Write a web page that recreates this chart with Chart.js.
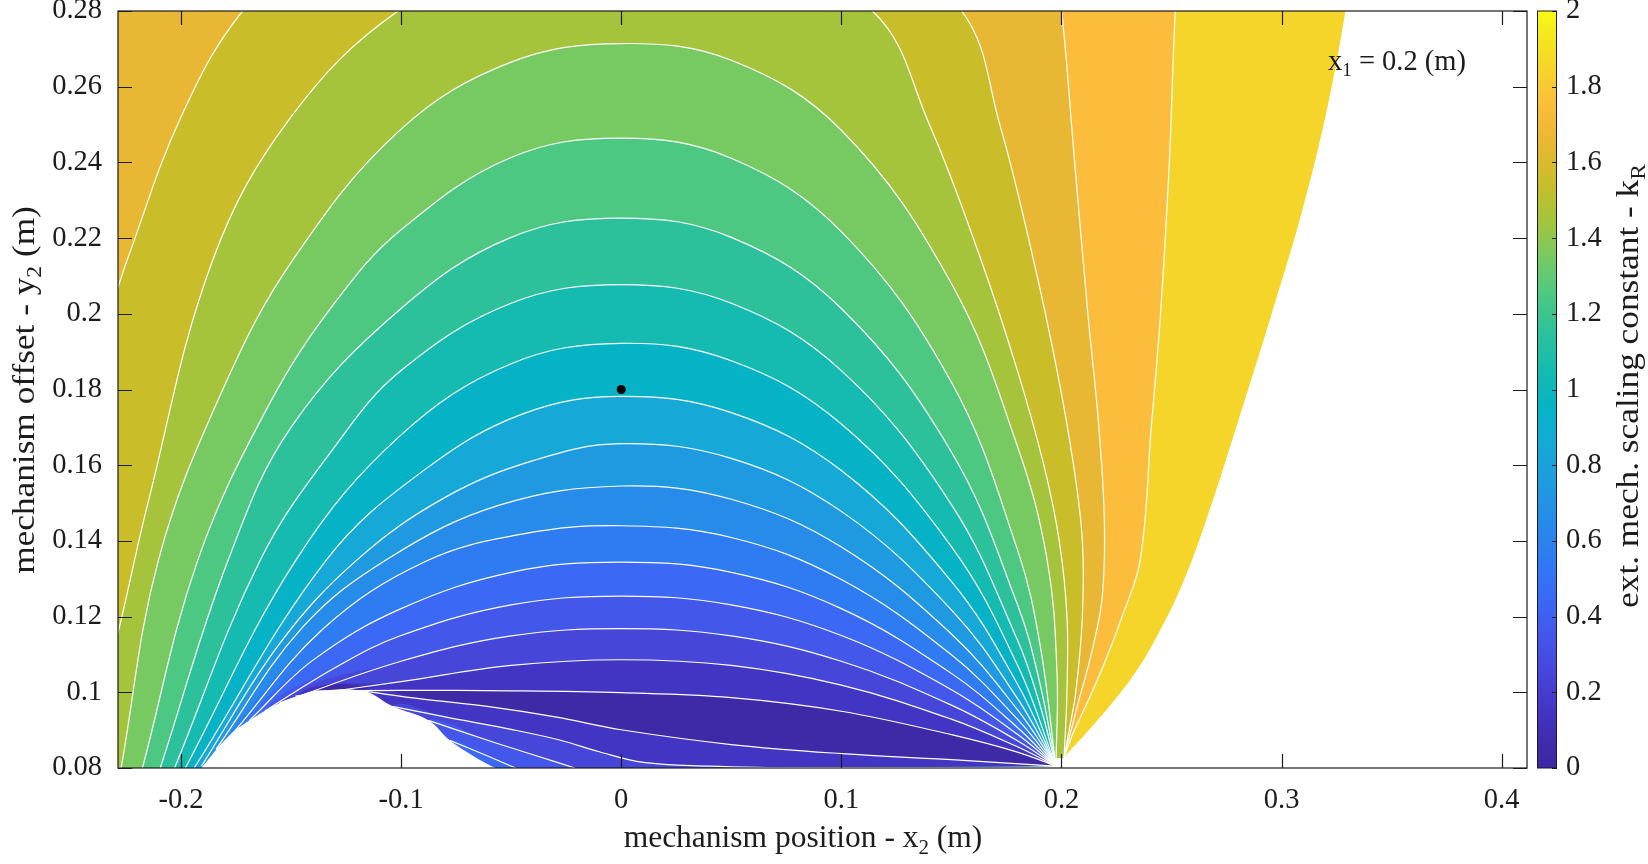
<!DOCTYPE html>
<html>
<head>
<meta charset="utf-8">
<script src="https://cdn.jsdelivr.net/npm/chart.js@4.4.1/dist/chart.umd.min.js"></script>
<style>
  html, body { margin: 0; padding: 0; background: #ffffff; }
  #wrap { position: relative; width: 1648px; height: 864px; }
  #main { position: absolute; left: 0; top: 0; }
  #cbar { position: absolute; left: 1480px; top: 0; }
</style>
</head>
<body>
<div id="wrap">
  <canvas id="main" width="1648" height="864"></canvas>
  <canvas id="cbar" width="168" height="864"></canvas>
</div>
<script>
// axis limits and ticks
var xLimits = [-0.2286, 0.4115];
var yLimits = [0.08, 0.28];
var xTicks = [-0.2, -0.1, 0, 0.1, 0.2, 0.3, 0.4];
var yTicks = [0.08, 0.1, 0.12, 0.14, 0.16, 0.18, 0.2, 0.22, 0.24, 0.26, 0.28];
var cbTicks = [0, 0.2, 0.4, 0.6, 0.8, 1, 1.2, 1.4, 1.6, 1.8, 2];

// colour of each k band: 0-0.1, 0.1-0.2, ... 1.9-2.0
var bandColors = ['#3e2aa6', '#4335c4', '#4646d9', '#4357ea', '#3b69f5', '#2f7bf2', '#278be9', '#1f9ae0', '#16a8d6', '#06b3c6',
                  '#15bbb0', '#2dc19b', '#4cc882', '#77ca62', '#a5c43b', '#cabd2a', '#e8b733', '#fcbc3c', '#f6d52b', '#f4ec1b'];

// edge of the computed region (right side), top to bottom
var domainEdge = [{x:0.331,y:0.29},{x:0.329,y:0.28},{x:0.321,y:0.255},{x:0.3095,y:0.2275},{x:0.2955,y:0.2},{x:0.2805,y:0.172},
  {x:0.2655,y:0.145},{x:0.2545,y:0.128},{x:0.2445,y:0.116},{x:0.2345,y:0.106},{x:0.2235,y:0.0975},{x:0.2115,y:0.0894},
  {x:0.2045,y:0.085},{x:0.2012,y:0.0828}];

// contour lines of k, upper family
var c18 = [{x:0.2535,y:0.29},{x:0.2517,y:0.28},{x:0.249,y:0.24},{x:0.245,y:0.2},{x:0.2408,y:0.17},{x:0.2358,y:0.135},{x:0.2275,y:0.12},
  {x:0.219,y:0.107},{x:0.2115,y:0.097},{x:0.2055,y:0.0895},{x:0.2012,y:0.0828}];
var c17 = [{x:0.197,y:0.29},{x:0.2001,y:0.28},{x:0.206,y:0.24},{x:0.212,y:0.2},{x:0.217,y:0.17},{x:0.2195,y:0.145},{x:0.2185,y:0.125},
  {x:0.2135,y:0.11},{x:0.2075,y:0.097},{x:0.2012,y:0.0828}];
var c16 = [{x:-0.245,y:0.18},{x:-0.2286,y:0.207},{x:-0.2244,y:0.2143},{x:-0.2,y:0.252},{x:-0.172,y:0.28},{x:-0.12,y:0.31},{x:-0.05,y:0.325},
  {x:0.02,y:0.327},{x:0.09,y:0.315},{x:0.1547,y:0.28},{x:0.172,y:0.25},{x:0.187,y:0.215},{x:0.198,y:0.185},{x:0.2055,y:0.16},
  {x:0.2095,y:0.14},{x:0.2095,y:0.12},{x:0.2065,y:0.1},{x:0.2035,y:0.09},{x:0.2012,y:0.0828}];
var c15 = [{x:-0.236,y:0.1},{x:-0.2286,y:0.1157},{x:-0.215,y:0.15},{x:-0.1855,y:0.2143},{x:-0.15,y:0.252},{x:-0.1014,y:0.28},{x:-0.05,y:0.293},
  {x:0.005,y:0.297},{x:0.06,y:0.293},{x:0.1141,y:0.28},{x:0.14,y:0.25},{x:0.163,y:0.215},{x:0.18,y:0.185},{x:0.192,y:0.16},
  {x:0.199,y:0.14},{x:0.2025,y:0.12},{x:0.2025,y:0.1},{x:0.2012,y:0.0828}];
var c14 = [{x:-0.2272,y:0.08},{x:-0.2102,y:0.135},{x:-0.181,y:0.18},{x:-0.1491,y:0.2143},{x:-0.1,y:0.2488},{x:-0.05,y:0.2665},
  {x:0,y:0.2714},{x:0.05,y:0.267},{x:0.1,y:0.2485},{x:0.15,y:0.208},{x:0.18,y:0.165},{x:0.1935,y:0.135},{x:0.198,y:0.105},{x:0.1975,y:0.0805}];
var c13 = [{x:-0.2175,y:0.08},{x:-0.1923,y:0.135},{x:-0.16,y:0.176},{x:-0.13,y:0.203},{x:-0.1,y:0.2222},{x:-0.05,y:0.2413},{x:0,y:0.2464},
  {x:0.05,y:0.2411},{x:0.1,y:0.2217},{x:0.15,y:0.1819},{x:0.18,y:0.1377},{x:0.19,y:0.1135},{x:0.1975,y:0.0805}];
var c12 = [{x:-0.2094,y:0.08},{x:-0.1785,y:0.135},{x:-0.15,y:0.17},{x:-0.1,y:0.2014},{x:-0.05,y:0.2202},{x:0,y:0.2253},
  {x:0.05,y:0.2202},{x:0.1,y:0.2014},{x:0.15,y:0.1635},{x:0.18,y:0.1232},{x:0.19,y:0.1029},{x:0.1975,y:0.0805}];
var c11 = [{x:-0.2029,y:0.08},{x:-0.1639,y:0.135},{x:-0.13,y:0.165},{x:-0.1,y:0.185},{x:-0.05,y:0.2028},{x:0,y:0.2077},
  {x:0.05,y:0.2028},{x:0.1,y:0.185},{x:0.15,y:0.1496},{x:0.18,y:0.1138},{x:0.19,y:0.0971},{x:0.1975,y:0.0805}];
var c10 = [{x:-0.198,y:0.08},{x:-0.1477,y:0.135},{x:-0.1,y:0.168},{x:-0.05,y:0.1868},{x:0,y:0.1922},
  {x:0.05,y:0.1876},{x:0.1,y:0.1709},{x:0.15,y:0.1385},{x:0.18,y:0.1072},{x:0.1975,y:0.0805}];
var c09 = [{x:-0.194,y:0.08},{x:-0.1339,y:0.135},{x:-0.09,y:0.1585},{x:-0.045,y:0.1735},{x:0,y:0.1782},
  {x:0.05,y:0.1739},{x:0.1,y:0.1586},{x:0.15,y:0.1293},{x:0.18,y:0.1022},{x:0.1975,y:0.0805}];
var c08 = [{x:-0.1907,y:0.0805},{x:-0.155,y:0.113},{x:-0.12,y:0.135},{x:-0.08,y:0.1515},{x:-0.04,y:0.1612},{x:0,y:0.1657},
  {x:0.05,y:0.1618},{x:0.1,y:0.1478},{x:0.15,y:0.1218},{x:0.18,y:0.0984},{x:0.1975,y:0.0805}];
var c07 = [{x:-0.184,y:0.085},{x:-0.145,y:0.117},{x:-0.1054,y:0.1355},{x:-0.055,y:0.1495},{x:0,y:0.1545},
  {x:0.05,y:0.151},{x:0.1,y:0.1384},{x:0.15,y:0.1154},{x:0.18,y:0.0954},{x:0.1975,y:0.0805}];
var c06 = [{x:-0.177,y:0.0888},{x:-0.135,y:0.117},{x:-0.0892,y:0.1345},{x:-0.045,y:0.1418},{x:0,y:0.144},
  {x:0.05,y:0.1409},{x:0.1,y:0.1298},{x:0.15,y:0.1099},{x:0.18,y:0.0929},{x:0.1975,y:0.0805}];
var c05 = [{x:-0.169,y:0.0925},{x:-0.14,y:0.1085},{x:-0.1,y:0.1221},{x:-0.05,y:0.1317},{x:0,y:0.1344},
  {x:0.05,y:0.1317},{x:0.1,y:0.1221},{x:0.15,y:0.105},{x:0.18,y:0.0907},{x:0.1975,y:0.0805}];
var c04 = [{x:-0.162,y:0.095},{x:-0.13,y:0.1065},{x:-0.1,y:0.115},{x:-0.05,y:0.1231},{x:0,y:0.1254},
  {x:0.05,y:0.1231},{x:0.1,y:0.115},{x:0.15,y:0.1007},{x:0.18,y:0.0889},{x:0.1975,y:0.0805}];
var c03 = [{x:-0.155,y:0.0972},{x:-0.1,y:0.1082},{x:-0.05,y:0.1149},{x:0,y:0.1168},
  {x:0.05,y:0.1149},{x:0.1,y:0.1082},{x:0.15,y:0.0966},{x:0.18,y:0.0872},{x:0.1975,y:0.0805}];
var c02 = [{x:-0.148,y:0.099},{x:-0.1,y:0.1028},{x:-0.05,y:0.1071},{x:0,y:0.1086},
  {x:0.05,y:0.1071},{x:0.1,y:0.1019},{x:0.15,y:0.0929},{x:0.18,y:0.0856},{x:0.1975,y:0.0805}];
var c01 = [{x:-0.1395,y:0.1003},{x:-0.1,y:0.1005},{x:-0.05,y:0.1004},{x:0,y:0.0999},
  {x:0.05,y:0.0986},{x:0.1,y:0.095},{x:0.15,y:0.0888},{x:0.18,y:0.0842},{x:0.1975,y:0.0805}];
var upperLines = [c18, c17, c16, c15, c14, c13, c12, c11, c10, c09, c08, c07, c06, c05, c04, c03, c02, c01];
var upperLevels = [1.8, 1.7, 1.6, 1.5, 1.4, 1.3, 1.2, 1.1, 1.0, 0.9, 0.8, 0.7, 0.6, 0.5, 0.4, 0.3, 0.2, 0.1];

// contour lines below the k = 0 valley
var d01 = [{x:-0.117,y:0.1003},{x:-0.09,y:0.0982},{x:-0.06,y:0.0962},{x:-0.03,y:0.0935},{x:0,y:0.0901},
  {x:0.05,y:0.0862},{x:0.1,y:0.0838},{x:0.15,y:0.0822},{x:0.1975,y:0.0805}];
var d02 = [{x:-0.104,y:0.0963},{x:-0.08,y:0.0935},{x:-0.05,y:0.0902},{x:-0.028,y:0.0874},{x:-0.01,y:0.0843},
  {x:0.01,y:0.0815},{x:0.04,y:0.0805},{x:0.075,y:0.08}];
var d03 = [{x:-0.0876,y:0.0926},{x:-0.06,y:0.0872},{x:-0.04,y:0.0835},{x:-0.021,y:0.08}];
var d04 = [{x:-0.0779,y:0.0873},{x:-0.062,y:0.0835},{x:-0.048,y:0.08}];
var lowerLines = [d01, d02, d03, d04];
var lowerLevels = [0.1, 0.2, 0.3, 0.4];

// blank area at the bottom left
var bumpEdge = [{x:-0.1907,y:0.08},{x:-0.1785,y:0.0883},{x:-0.1688,y:0.0926},{x:-0.1558,y:0.097},{x:-0.146,y:0.0992},
  {x:-0.1395,y:0.1003},{x:-0.1168,y:0.1003},{x:-0.1038,y:0.0963},{x:-0.0876,y:0.0926},{x:-0.0779,y:0.0873},
  {x:-0.0665,y:0.0829},{x:-0.0584,y:0.0803},{x:-0.057,y:0.08}];

var refPoint = [{x:0, y:0.18}];

var fontFamily = '"Liberation Serif", "Times New Roman", serif';
var textColor = '#1c1c1c';
var tickSize = 28.5;
var titleSize = 31.5;
var xTitle = [['mechanism position - x', 0], ['2', 1], [' (m)', 0]];
var yTitle = [['mechanism offset - y', 0], ['2', 1], [' (m)', 0]];
var cbTitle = [['ext. mech. scaling constant - k', 0], ['R', 1]];
var note = [['x', 0], ['1', 1], [' = 0.2 (m)', 0]];

function fmt(v){
	return String(Math.round(v * 100) / 100);
}

// close a contour into a region using the plot limits
function closeShape(pts){
	var first = pts[0];
	var pad = 0.05;
	var lead = [];
	if (first.y > yLimits[1]) {
		lead = [{x: xLimits[0] - pad, y: yLimits[0]}, {x: xLimits[0] - pad, y: yLimits[1] + pad}];
	} else if (first.x < xLimits[0]) {
		lead = [{x: xLimits[0] - pad, y: yLimits[0]}];
	} else if (first.y > yLimits[0]) {
		lead = [{x: first.x, y: yLimits[0]}];
	}
	return lead.concat(pts);
}

function makeFill(pts, color){
	return {
		data: closeShape(pts), fill: 'shape', backgroundColor: color,
		borderColor: 'rgba(0,0,0,0)', borderWidth: 0, pointRadius: 0,
		tension: 0.38, capBezierPoints: false
	};
}

function makeStroke(pts){
	return {
		data: pts, fill: false, borderColor: '#ffffff', borderWidth: 1.2,
		pointRadius: 0, tension: 0.38, capBezierPoints: false
	};
}

function drawRich(ctx, parts, x, y, size, align){
	var sub = Math.round(size * 0.68);
	var w = 0;
	parts.forEach(function(p){
		ctx.font = (p[1] ? sub : size) + 'px ' + fontFamily;
		w += ctx.measureText(p[0]).width;
	});
	var cx = align === 'center' ? x - w / 2 : x;
	parts.forEach(function(p){
		ctx.font = (p[1] ? sub : size) + 'px ' + fontFamily;
		ctx.fillText(p[0], cx, p[1] ? y + size * 0.22 : y);
		cx += ctx.measureText(p[0]).width;
	});
}

// painting order: outer bands first, then inner ones, then blank area, lines, point
var layers = [];
layers.push(makeFill(domainEdge, bandColors[18]));
for (var i = 0; i < upperLines.length; i++) {
	layers.push(makeFill(upperLines[i], bandColors[Math.round(upperLevels[i] * 10) - 1]));
}
for (var j = 0; j < lowerLines.length; j++) {
	layers.push(makeFill(lowerLines[j], bandColors[Math.round(lowerLevels[j] * 10)]));
}
layers.push(makeFill(bumpEdge, '#ffffff'));
upperLines.concat(lowerLines).forEach(function(pts){ layers.push(makeStroke(pts)); });
layers.forEach(function(ds, idx){ ds.order = layers.length - idx + 1; });
layers.push({ data: refPoint, showLine: false, fill: false, pointRadius: 4.5, pointBackgroundColor: '#000000', pointBorderWidth: 0, order: 0 });

// box, inward ticks and labels
var frame = {
	id: 'frame',
	afterDatasetsDraw: function(chart){
		var ctx = chart.ctx, a = chart.chartArea, sx = chart.scales.x, sy = chart.scales.y;
		ctx.save();
		ctx.strokeStyle = '#1c1c1c';
		ctx.lineWidth = 1.2;
		ctx.strokeRect(a.left, a.top, a.right - a.left, a.bottom - a.top);
		ctx.beginPath();
		xTicks.forEach(function(v){
			var p = Math.round(sx.getPixelForValue(v)) + 0.5;
			ctx.moveTo(p, a.bottom); ctx.lineTo(p, a.bottom - 14);
			ctx.moveTo(p, a.top); ctx.lineTo(p, a.top + 14);
		});
		yTicks.forEach(function(v){
			var p = Math.round(sy.getPixelForValue(v)) + 0.5;
			ctx.moveTo(a.left, p); ctx.lineTo(a.left + 14, p);
			ctx.moveTo(a.right, p); ctx.lineTo(a.right - 14, p);
		});
		ctx.stroke();
		ctx.fillStyle = textColor;
		ctx.textAlign = 'left';
		ctx.textBaseline = 'alphabetic';
		drawRich(ctx, xTitle, 803, 847, titleSize, 'center');
		drawRich(ctx, note, 1328, 70, tickSize, 'left');
		ctx.translate(34, 390);
		ctx.rotate(-Math.PI / 2);
		ctx.scale(1.12, 1);
		drawRich(ctx, yTitle, 0, 0, titleSize, 'center');
		ctx.restore();
	}
};

new Chart('main', {
	type: 'line',
	data: { datasets: layers },
	options: {
		responsive: false,
		animation: false,
		events: [],
		layout: { padding: { left: 0, top: 11, right: 121, bottom: 0 } },
		plugins: { legend: { display: false }, tooltip: { enabled: false } },
		scales: {
			x: {
				type: 'linear', min: xLimits[0], max: xLimits[1],
				afterBuildTicks: function(s){ s.ticks = xTicks.map(function(v){ return {value: v}; }); },
				afterFit: function(s){ s.height = 96; s.paddingLeft = 0; s.paddingRight = 0; },
				grid: { display: false, drawTicks: false }, border: { display: false },
				ticks: { autoSkip: false, maxRotation: 0, padding: 15, color: textColor,
					font: { family: fontFamily, size: tickSize }, callback: function(v){ return fmt(v); } }
			},
			y: {
				type: 'linear', min: yLimits[0], max: yLimits[1],
				afterBuildTicks: function(s){ s.ticks = yTicks.map(function(v){ return {value: v}; }); },
				afterFit: function(s){ s.width = 118; s.paddingTop = 0; s.paddingBottom = 0; },
				grid: { display: false, drawTicks: false }, border: { display: false },
				ticks: { autoSkip: false, padding: 16, color: textColor,
					font: { family: fontFamily, size: tickSize }, callback: function(v){ return fmt(v); } }
			}
		}
	},
	plugins: [frame]
});

// colour bar
var cbFrame = {
	id: 'cbFrame',
	afterDatasetsDraw: function(chart){
		var ctx = chart.ctx, a = chart.chartArea, sy = chart.scales.y;
		ctx.save();
		ctx.strokeStyle = '#1c1c1c';
		ctx.lineWidth = 1;
		ctx.strokeRect(a.left + 0.5, a.top, a.right - a.left - 1, a.bottom - a.top);
		ctx.beginPath();
		cbTicks.forEach(function(v){
			var p = Math.round(sy.getPixelForValue(v)) + 0.5;
			ctx.moveTo(a.right, p); ctx.lineTo(a.right - 5, p);
		});
		ctx.stroke();
		ctx.fillStyle = textColor;
		ctx.textAlign = 'left';
		ctx.textBaseline = 'alphabetic';
		ctx.translate(158, 386);
		ctx.rotate(-Math.PI / 2);
		ctx.scale(1.12, 1);
		drawRich(ctx, cbTitle, 0, 0, titleSize, 'center');
		ctx.restore();
	}
};

new Chart('cbar', {
	type: 'bar',
	data: {
		labels: ['k'],
		datasets: [{
			data: [[cbTicks[0], cbTicks[cbTicks.length - 1]]],
			barPercentage: 1, categoryPercentage: 1, borderWidth: 0,
			backgroundColor: function(c){
				var a = c.chart.chartArea;
				if (!a) return bandColors[0];
				var g = c.chart.ctx.createLinearGradient(0, a.bottom, 0, a.top);
				g.addColorStop(0, '#3e26a8');
				bandColors.forEach(function(col, k){ g.addColorStop((k + 0.5) / bandColors.length, col); });
				g.addColorStop(1, '#f9fb15');
				return g;
			}
		}]
	},
	options: {
		responsive: false,
		animation: false,
		events: [],
		layout: { padding: { left: 57, top: 11, right: 0, bottom: 96 } },
		plugins: { legend: { display: false }, tooltip: { enabled: false } },
		scales: {
			x: { display: false },
			y: {
				position: 'right', min: cbTicks[0], max: cbTicks[cbTicks.length - 1],
				afterBuildTicks: function(s){ s.ticks = cbTicks.map(function(v){ return {value: v}; }); },
				afterFit: function(s){ s.width = 91; s.paddingTop = 0; s.paddingBottom = 0; },
				grid: { display: false, drawTicks: false }, border: { display: false },
				ticks: { autoSkip: false, padding: 9, color: textColor,
					font: { family: fontFamily, size: tickSize }, callback: function(v){ return fmt(v); } }
			}
		}
	},
	plugins: [cbFrame]
});
</script>
</body>
</html>
